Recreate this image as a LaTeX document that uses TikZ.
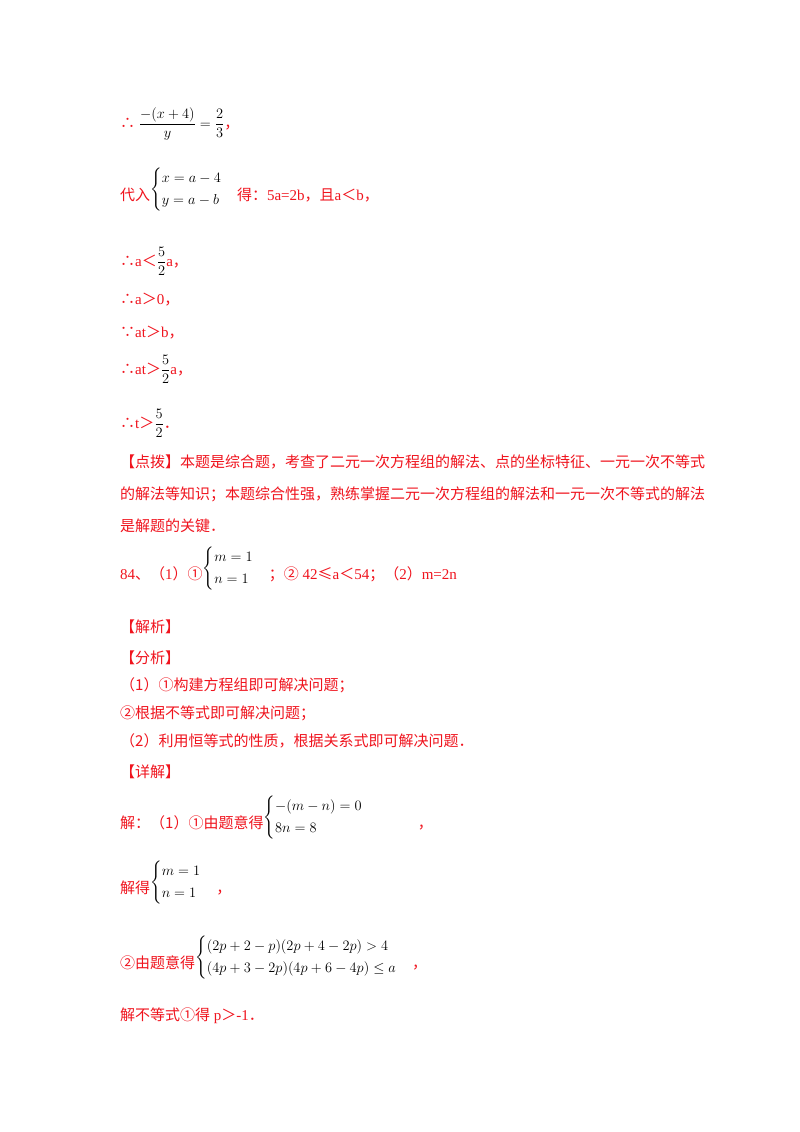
\documentclass[tikz,border=0pt]{standalone}
\usepackage{amsmath}
\usepackage{fontspec}
\setmainfont{Liberation Serif}
\newfontfamily\cjk{Noto Sans CJK SC}
\newcommand\C[1]{{\cjk #1}}
\newcommand\K[1]{\textcolor{black}{#1}}
\newcommand\R[1]{\raisebox{7pt}{\K{#1}}}
\definecolor{txtred}{RGB}{240,20,30}
\begin{document}
\begin{tikzpicture}[x=1pt,y=1pt,
  ln/.style={anchor=base west,inner sep=0pt,text=txtred,font=\fontsize{15}{18}\selectfont}]
\useasboundingbox (0,0) rectangle (800,-1132);
\fill[white] (0,0) rectangle (800,-1132);
\node[ln] (l1) at (120,-128) {\C{∴} \K{$\dfrac{-(x+4)}{y}=\dfrac{2}{3}$}\C{，}};
\node[ln] (l2) at (120,-200) {\C{代入}\R{$\begin{cases}x=a-4\\y=a-b\end{cases}$}\C{得：}5a=2b\C{，且}a\C{＜}b\C{，}};
\node[ln] (l3) at (120,-266) {\C{∴}a\C{＜}\K{$\dfrac{5}{2}$}a\C{，}};
\node[ln] (l4) at (120,-304) {\C{∴}a\C{＞}0\C{，}};
\node[ln] (l5) at (120,-337) {\C{∵}at\C{＞}b\C{，}};
\node[ln] (l6) at (120,-374) {\C{∴}at\C{＞}\K{$\dfrac{5}{2}$}a\C{，}};
\node[ln] (l7) at (120,-428) {\C{∴}t\C{＞}\K{$\dfrac{5}{2}$}\C{．}};
\node[ln] (p1) at (120,-467) {\C{【点拨】本题是综合题，考查了二元一次方程组的解法、点的坐标特征、一元一次不等式}};
\node[ln] (p2) at (120,-499) {\C{的解法等知识；本题综合性强，熟练掌握二元一次方程组的解法和一元一次不等式的解法}};
\node[ln] (p3) at (120,-531) {\C{是解题的关键．}};
\node[ln] (q) at (120,-579) {84\C{、（}1\C{）①}\R{$\begin{cases}m=1\\n=1\end{cases}$}\C{；②} 42\C{≤}a\C{＜}54\C{；（}2\C{）}m=2n};
\node[ln] (h1) at (120,-632) {\C{【解析】}};
\node[ln] (h2) at (120,-663) {\C{【分析】}};
\node[ln] (a1) at (120,-690) {\C{（1）①构建方程组即可解决问题；}};
\node[ln] (a2) at (120,-718) {\C{②根据不等式即可解决问题；}};
\node[ln] (a3) at (120,-746) {\C{（2）利用恒等式的性质，根据关系式即可解决问题．}};
\node[ln] (h3) at (120,-777) {\C{【详解】}};
\node[ln] (s1) at (120,-828) {\C{解：（1）①由题意得}\R{$\begin{cases}-(m-n)=0\\8n=8\end{cases}$}\hspace{40pt}\C{，}};
\node[ln] (s2) at (120,-893) {\C{解得}\R{$\begin{cases}m=1\\n=1\end{cases}$}\C{，}};
\node[ln] (s3) at (120,-968) {\C{②由题意得}\R{$\begin{cases}(2p+2-p)(2p+4-2p)>4\\(4p+3-2p)(4p+6-4p)\le a\end{cases}$}\C{，}};
\node[ln] (s4) at (120,-1020) {\C{解不等式①得} p\C{＞}-1\C{．}};
\end{tikzpicture}
\end{document}
